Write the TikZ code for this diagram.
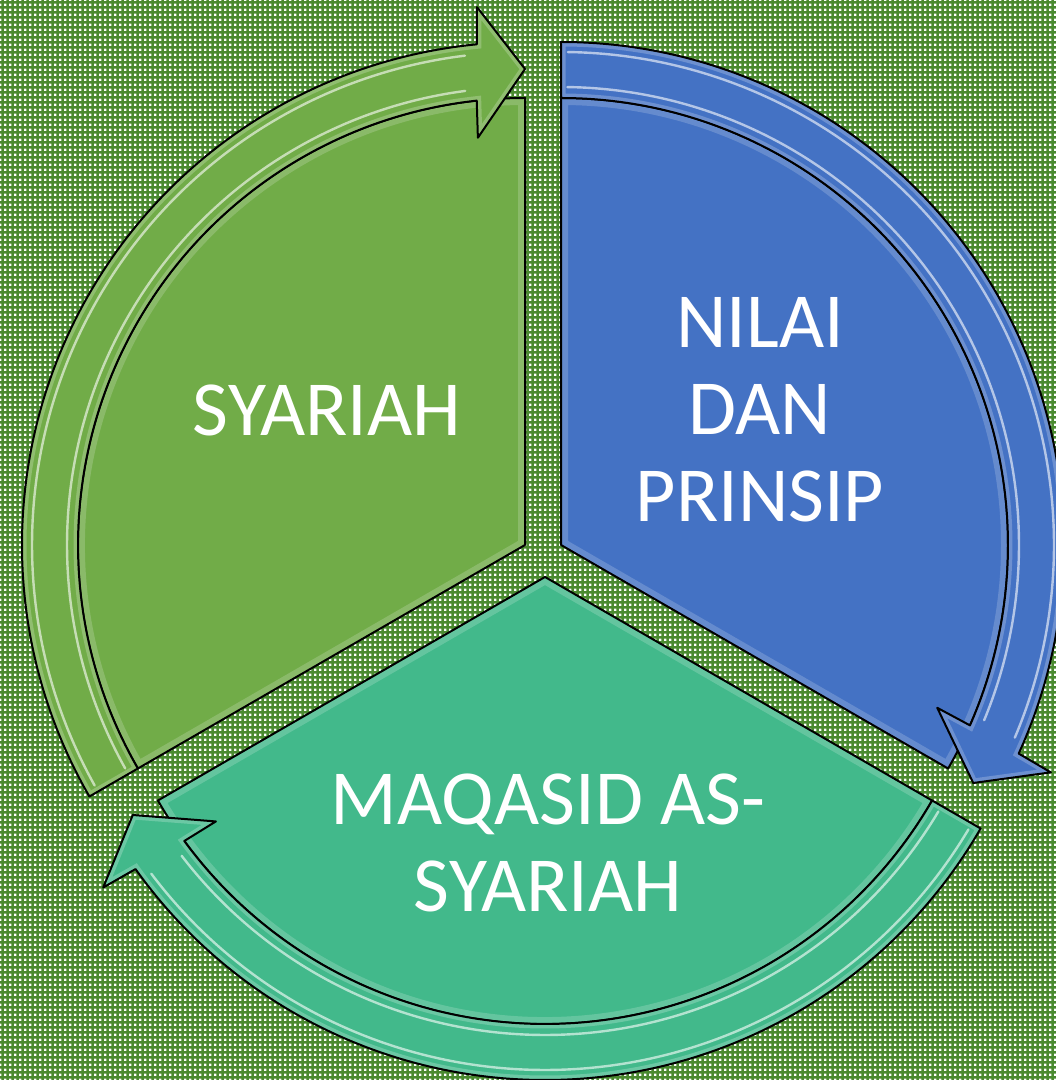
\documentclass[tikz,border=0pt]{standalone}
\usepackage{fontspec}
\setmainfont{Carlito}
\usetikzlibrary{patterns.meta}
\tikzdeclarepattern{
  name=sqdots, type=colored,
  bounding box={(0pt,0pt) and (5pt,5pt)},
  tile size={(5pt,5pt)},
  code={\fill[white] (0pt,0pt) rectangle (2.8pt,2.8pt);}
}
\definecolor{bggreen}{HTML}{4A8A30}
\definecolor{cgreen}{HTML}{71AC48}
\definecolor{cblue}{HTML}{4472C4}
\definecolor{cteal}{HTML}{42B98B}
\tikzset{
  outline/.style={draw=black, line width=2pt, line join=round},
  txt/.style={text=white, font=\fontsize{78}{87}\selectfont, align=center, inner sep=0pt},
  gloss/.style={white, opacity=.6, line width=2.4pt, line cap=round},
}
\begin{document}
\begin{tikzpicture}[x=1pt,y=1pt]
\useasboundingbox (0,0) rectangle (1056,1080);
\fill[bggreen] (0,0) rectangle (1056,1080);
\fill[pattern=sqdots] (0,0) rectangle (1056,1080);
\coordinate (vG) at (525,535);
\coordinate (vB) at (561,535);
\coordinate (vT) at (545,503);
\foreach \v/\E/\col in {vG/90/cgreen, vB/-30/cblue, vT/-150/cteal}{
  \begin{scope}[shift={(\v)}]
    \pgfmathsetmacro\T{\E+120}
    % sector body
    \fill[\col] (0pt,0pt) -- (\T:447pt) arc[start angle=\T, end angle=\E, radius=447pt] -- cycle;
    \begin{scope}
      \clip (0pt,0pt) -- (\T:447pt) arc[start angle=\T, end angle=\E, radius=447pt] -- cycle;
      \draw[white, opacity=.18, line width=14pt] (0pt,0pt) -- (\T:447pt) arc[start angle=\T, end angle=\E, radius=447pt] -- cycle;
    \end{scope}
    \draw[outline] (0pt,0pt) -- (\T:447pt) arc[start angle=\T, end angle=\E, radius=447pt] -- cycle;
    % arrow band
    \fill[\col] (\T:503pt) arc[start angle=\T, end angle=\E+5.5, radius=503pt]
      -- (\E+5.1:540pt) -- (\E:476pt) -- (\E+6.6:410pt) -- (\E+6.2:447pt)
      arc[start angle=\E+6.2, end angle=\T, radius=447pt] -- cycle;
    \begin{scope}
      \clip (\T:503pt) arc[start angle=\T, end angle=\E+5.5, radius=503pt]
        -- (\E+5.1:540pt) -- (\E:476pt) -- (\E+6.6:410pt) -- (\E+6.2:447pt)
        arc[start angle=\E+6.2, end angle=\T, radius=447pt] -- cycle;
      \draw[white, opacity=.22, line width=9pt] (\T:503pt) arc[start angle=\T, end angle=\E+5.5, radius=503pt]
        -- (\E+5.1:540pt) -- (\E:476pt) -- (\E+6.6:410pt) -- (\E+6.2:447pt)
        arc[start angle=\E+6.2, end angle=\T, radius=447pt] -- cycle;
    \end{scope}
    \draw[gloss] (\T-0.8:458pt) arc[start angle=\T-0.8, end angle=\E+7.5, radius=458pt];
    \draw[gloss] (\T-0.8:493pt) arc[start angle=\T-0.8, end angle=\E+7.0, radius=493pt];
    \draw[outline] (\T:503pt) arc[start angle=\T, end angle=\E+5.5, radius=503pt]
      -- (\E+5.1:540pt) -- (\E:476pt) -- (\E+6.6:410pt) -- (\E+6.2:447pt)
      arc[start angle=\E+6.2, end angle=\T, radius=447pt] -- cycle;
  \end{scope}
}
\node[txt] (syariah) at (327,670) {SYARIAH};
\node[txt] (nilai) at (760,670) {NILAI\\DAN\\PRINSIP};
\node[txt] (maqasid) at (548,237) {MAQASID AS-\\SYARIAH};
\end{tikzpicture}
\end{document}
